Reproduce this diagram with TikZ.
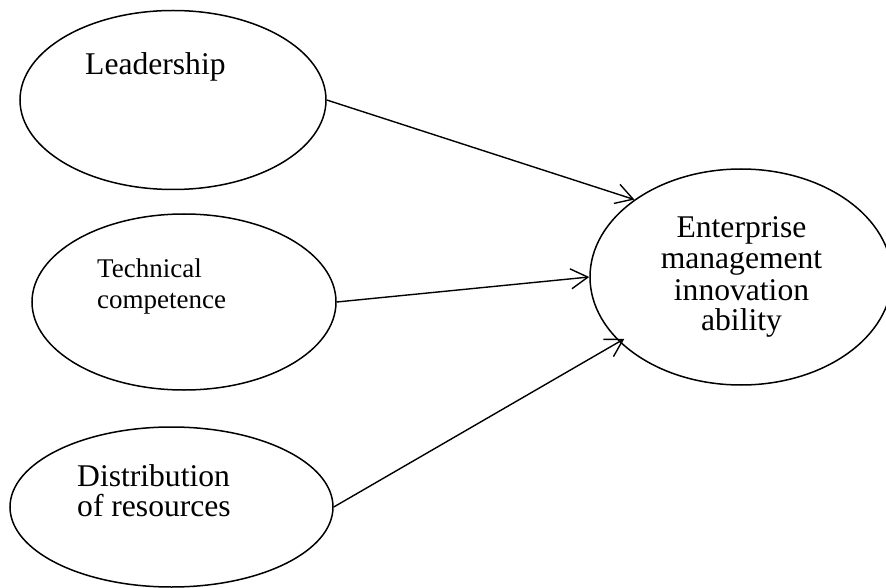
\documentclass[tikz,border=0pt]{standalone}
\usepackage{fontspec}
\setmainfont{Liberation Serif}
\usetikzlibrary{shapes.geometric,arrows.meta}

\tikzset{
  factor/.style={draw, ellipse, line width=1.5pt, inner sep=0pt},
  biglabel/.style={inner sep=0pt, font=\fontsize{31.6}{31}\selectfont},
  smalllabel/.style={inner sep=0pt, font=\fontsize{27}{30}\selectfont},
  link/.style={line width=1.4pt, -{Straight Barb[length=17pt, width=20pt, line width=1.4pt]}}
}

\begin{document}
\begin{tikzpicture}[x=1pt, y=-1pt]
  \useasboundingbox (0,0) rectangle (886,588);

  % the four constructs
  \node[factor, minimum width=306pt, minimum height=179pt] (lead) at (173,100) {};
  \node[factor, minimum width=304pt, minimum height=176pt] (tech) at (184,302) {};
  \node[factor, minimum width=323pt, minimum height=160pt] (dist) at (171.5,507) {};
  \node[factor, minimum width=302pt, minimum height=216pt] (ent)  at (741,277) {};

  % labels
  \node[biglabel, anchor=base west] (leadA) at (85,75) {Leadership};

  \node[smalllabel, anchor=base west] (techA) at (97,277) {Technical};
  \node[smalllabel, anchor=base west] (techB) at (97,308) {competence};

  \node[biglabel, anchor=base west] (distA) at (77,486.7) {Distribution};
  \node[biglabel, anchor=base west] (distB) at (77,516.7) {of resources};

  \node[biglabel, anchor=base] (entA) at (741.5,237.3) {Enterprise};
  \node[biglabel, anchor=base] (entB) at (741.5,268.3) {management};
  \node[biglabel, anchor=base] (entC) at (741.5,300)   {innovation};
  \node[biglabel, anchor=base] (entD) at (741.5,330)   {ability};

  % influence paths
  \draw[link] (lead.east) -- (ent.144.7);
  \draw[link] (tech.east) -- (ent.west);
  \draw[link, shorten >=-6pt] (dist.east) -- (ent.208.7);
\end{tikzpicture}
\end{document}
